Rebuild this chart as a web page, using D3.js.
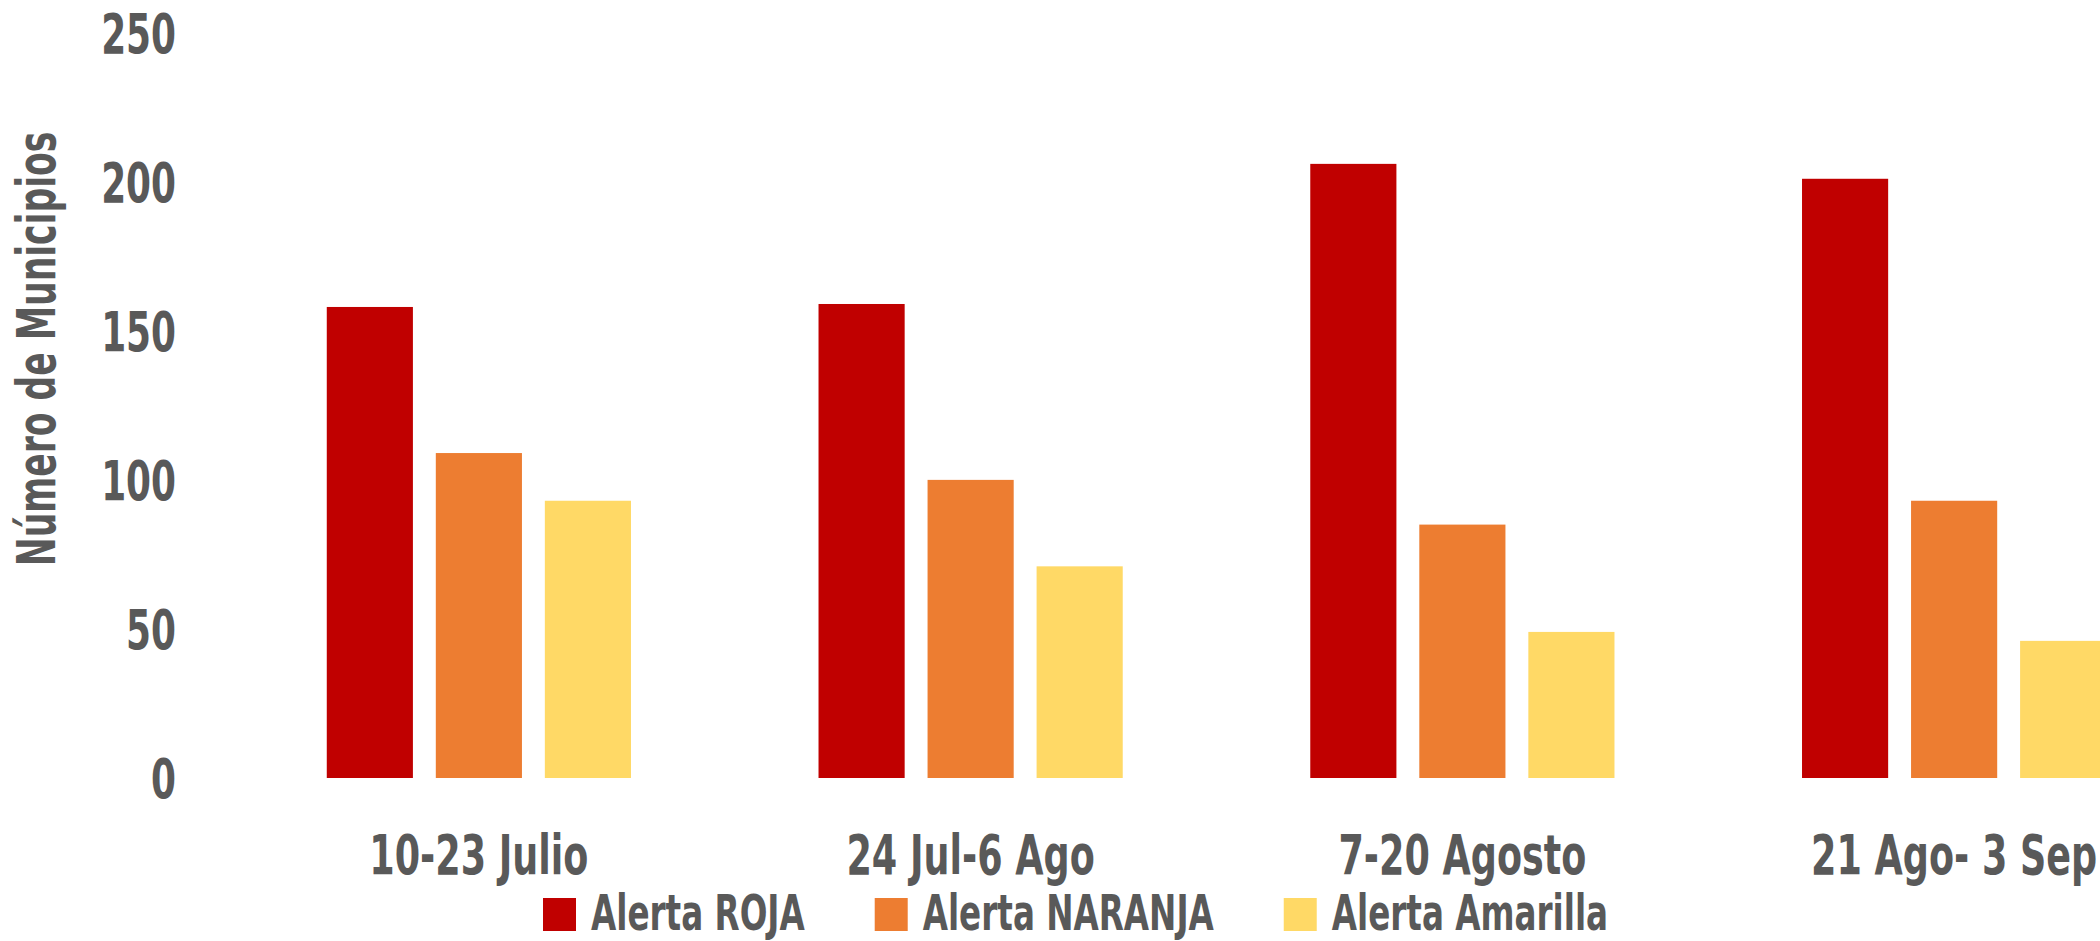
<!DOCTYPE html>
<html>
<head>
<meta charset="utf-8">
<script src="https://cdn.jsdelivr.net/npm/d3@7"></script>
<style>
  html, body { margin: 0; padding: 0; background: #fff; overflow: hidden; }
  text { font-family: "Liberation Sans Narrow", "DejaVu Sans Condensed", sans-serif; font-weight: bold; fill: #595959; }
</style>
</head>
<body>
<div id="chart"></div>
<script>
// data
var periodos = ["10-23 Julio", "24 Jul-6 Ago", "7-20 Agosto", "21 Ago- 3 Sep"];
var alertas = ["Alerta ROJA", "Alerta NARANJA", "Alerta Amarilla"];
var roja = [158, 159, 206, 201];
var naranja = [109, 100, 85, 93];
var amarilla = [93, 71, 49, 46];
var yTicks = [0, 50, 100, 150, 200, 250];
var colores = ["#C00000", "#ED7D31", "#FFD966"];

var W = 2100, H = 941;
var SX = 0.725; // squeeze text, the condensed font is still wider than the original

var series = [roja, naranja, amarilla];
var data = periodos.map(function(p, i) {
  return { periodo: p, valores: series.map(function(s, k) { return { key: alertas[k], v: s[i] }; }) };
});

var svg = d3.select("#chart").append("svg")
  .attr("width", W)
  .attr("height", H);

var x0 = d3.scaleBand()
  .domain(periodos)
  .range([233, 2200]);

var x1 = d3.scaleBand()
  .domain(alertas)
  .range([0, x0.bandwidth()])
  .paddingInner(0.21)
  .paddingOuter(0.86);

var y = d3.scaleLinear()
  .domain([0, 250])
  .range([778, 32.7]);

var color = d3.scaleOrdinal().domain(alertas).range(colores);

// bars
var groups = svg.append("g").selectAll("g")
  .data(data)
  .enter().append("g")
  .attr("transform", function(d) { return "translate(" + x0(d.periodo) + ",0)"; });

groups.selectAll("rect")
  .data(function(d) { return d.valores; })
  .enter().append("rect")
  .attr("x", function(d) { return x1(d.key); })
  .attr("y", function(d) { return y(d.v); })
  .attr("width", x1.bandwidth())
  .attr("height", function(d) { return y(0) - y(d.v); })
  .style("fill", function(d) { return color(d.key); });

// y axis, labels only
var yAxis = svg.append("g")
  .attr("transform", "translate(176,0)")
  .call(d3.axisLeft(y).tickValues(yTicks).tickSize(0).tickPadding(0));
yAxis.select(".domain").remove();
yAxis.selectAll("text")
  .attr("x", null)
  .attr("dy", "0.36em")
  .attr("transform", "scale(" + SX + ",1)")
  .style("font-size", "55px")
  .style("fill", "#595959")
  .style("font-family", null);

// x axis, labels only
var xAxis = svg.append("g")
  .attr("transform", "translate(0,874)")
  .call(d3.axisBottom(x0).tickSize(0).tickPadding(0));
xAxis.select(".domain").remove();
xAxis.selectAll("text")
  .attr("y", 0)
  .attr("dy", 0)
  .attr("transform", "scale(" + SX + ",1)")
  .style("font-size", "56px")
  .style("fill", "#595959")
  .style("font-family", null);

// y title
svg.append("text")
  .attr("transform", "translate(55,349) rotate(-90) scale(" + SX + ",1)")
  .attr("text-anchor", "middle")
  .style("font-size", "53px")
  .text("Número de Municipios");

// legend
var legend = svg.append("g").attr("transform", "translate(543,0)");
var lx = 0;
alertas.forEach(function(a) {
  var item = legend.append("g").attr("transform", "translate(" + lx + ",0)");
  item.append("rect")
    .attr("x", 0)
    .attr("y", 898)
    .attr("width", 33)
    .attr("height", 33)
    .style("fill", color(a));
  var t = item.append("text")
    .attr("transform", "translate(48,930) scale(" + SX + ",1)")
    .style("font-size", "50px")
    .text(a);
  lx += 48 + t.node().getComputedTextLength() * SX + 70;
});
</script>
</body>
</html>
